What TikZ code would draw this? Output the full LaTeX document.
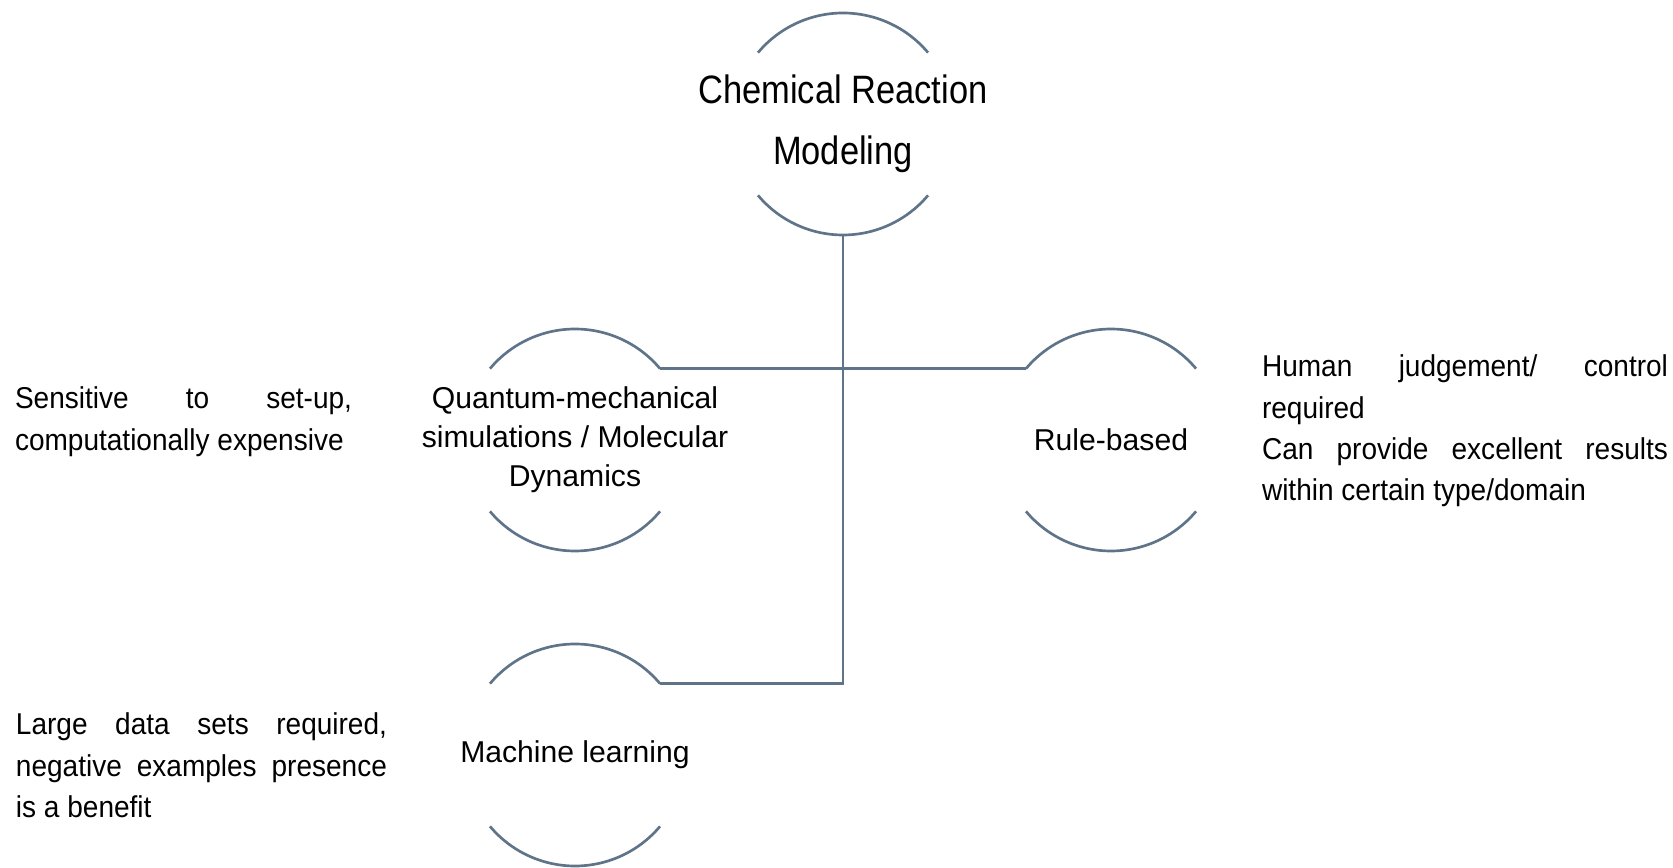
\documentclass[tikz,border=0pt]{standalone}
\usepackage{fontspec}
\setmainfont{Liberation Sans}
\newfontfamily\headfont[FakeStretch=0.87]{Liberation Sans}
\newfontfamily\notefont[FakeStretch=0.93]{Liberation Sans}
\definecolor{linegray}{HTML}{5F7489}
\begin{document}
\begin{tikzpicture}[x=0.75pt,y=0.75pt,
  ring/.style={circle, minimum size=166.5pt, inner sep=0pt, outer sep=0pt},
  hubtext/.style={align=center, inner sep=0pt,
    font=\fontsize{22.6pt}{29.25pt}\selectfont},
  rim/.style={draw=linegray, line width=2pt},
  link/.style={draw=linegray, line width=2pt},
  note/.style={anchor=north west, inner sep=0pt, outer sep=0pt, align=left,
    font=\notefont\fontsize{22.6pt}{31pt}\selectfont}]
\useasboundingbox (0,0) rectangle (1673,867);

% open circles for the main topic and the three modelling approaches
\node[ring] (top) at (843,743) {};
\node[ring] (qm) at (575,427) {};
\node[ring] (rule) at (1111,427) {};
\node[ring] (ml) at (575,112) {};

% only an upper and a lower arc of each circle are drawn
\foreach \n in {top,qm,rule,ml}{
  \draw[rim] (\n.40) arc[start angle=40, end angle=140, radius=83.25pt];
  \draw[rim] (\n.220) arc[start angle=220, end angle=320, radius=83.25pt];
}

% circle captions
\node[hubtext, font=\headfont\fontsize{29.7pt}{45.5pt}\selectfont] (toptext) at (top)
  {Chemical Reaction\\Modeling};
\node[hubtext] (qmtext) at (qm) {Quantum-mechanical\\simulations / Molecular\\Dynamics};
\node[hubtext] (ruletext) at (rule) {Rule-based};
\node[hubtext] (mltext) at (ml) {Machine learning};

% connectors
\draw[link] (qm.40) -- (rule.140);
\draw[link] (top.south) -- (top.south |- ml.40) -- (ml.40);

% remarks (justified lines, last line of each paragraph flush left)
\node[note] (qmnote) at (15,480)
  {\hbox to 252.75pt{Sensitive\hfill to\hfill set-up,}\\
   computationally expensive};
\node[note] (mlnote) at (16,154)
  {\hbox to 278.25pt{Large\hfill data\hfill sets\hfill required,}\\
   \hbox to 278.25pt{negative\hfill examples\hfill presence}\\
   is a benefit};
\node[note] (rulenote) at (1262,512)
  {\hbox to 304.5pt{Human\hfill judgement/\hfill control}\\
   required\\
   \hbox to 304.5pt{Can\hfill provide\hfill excellent\hfill results}\\
   within certain type/domain};
\end{tikzpicture}
\end{document}
